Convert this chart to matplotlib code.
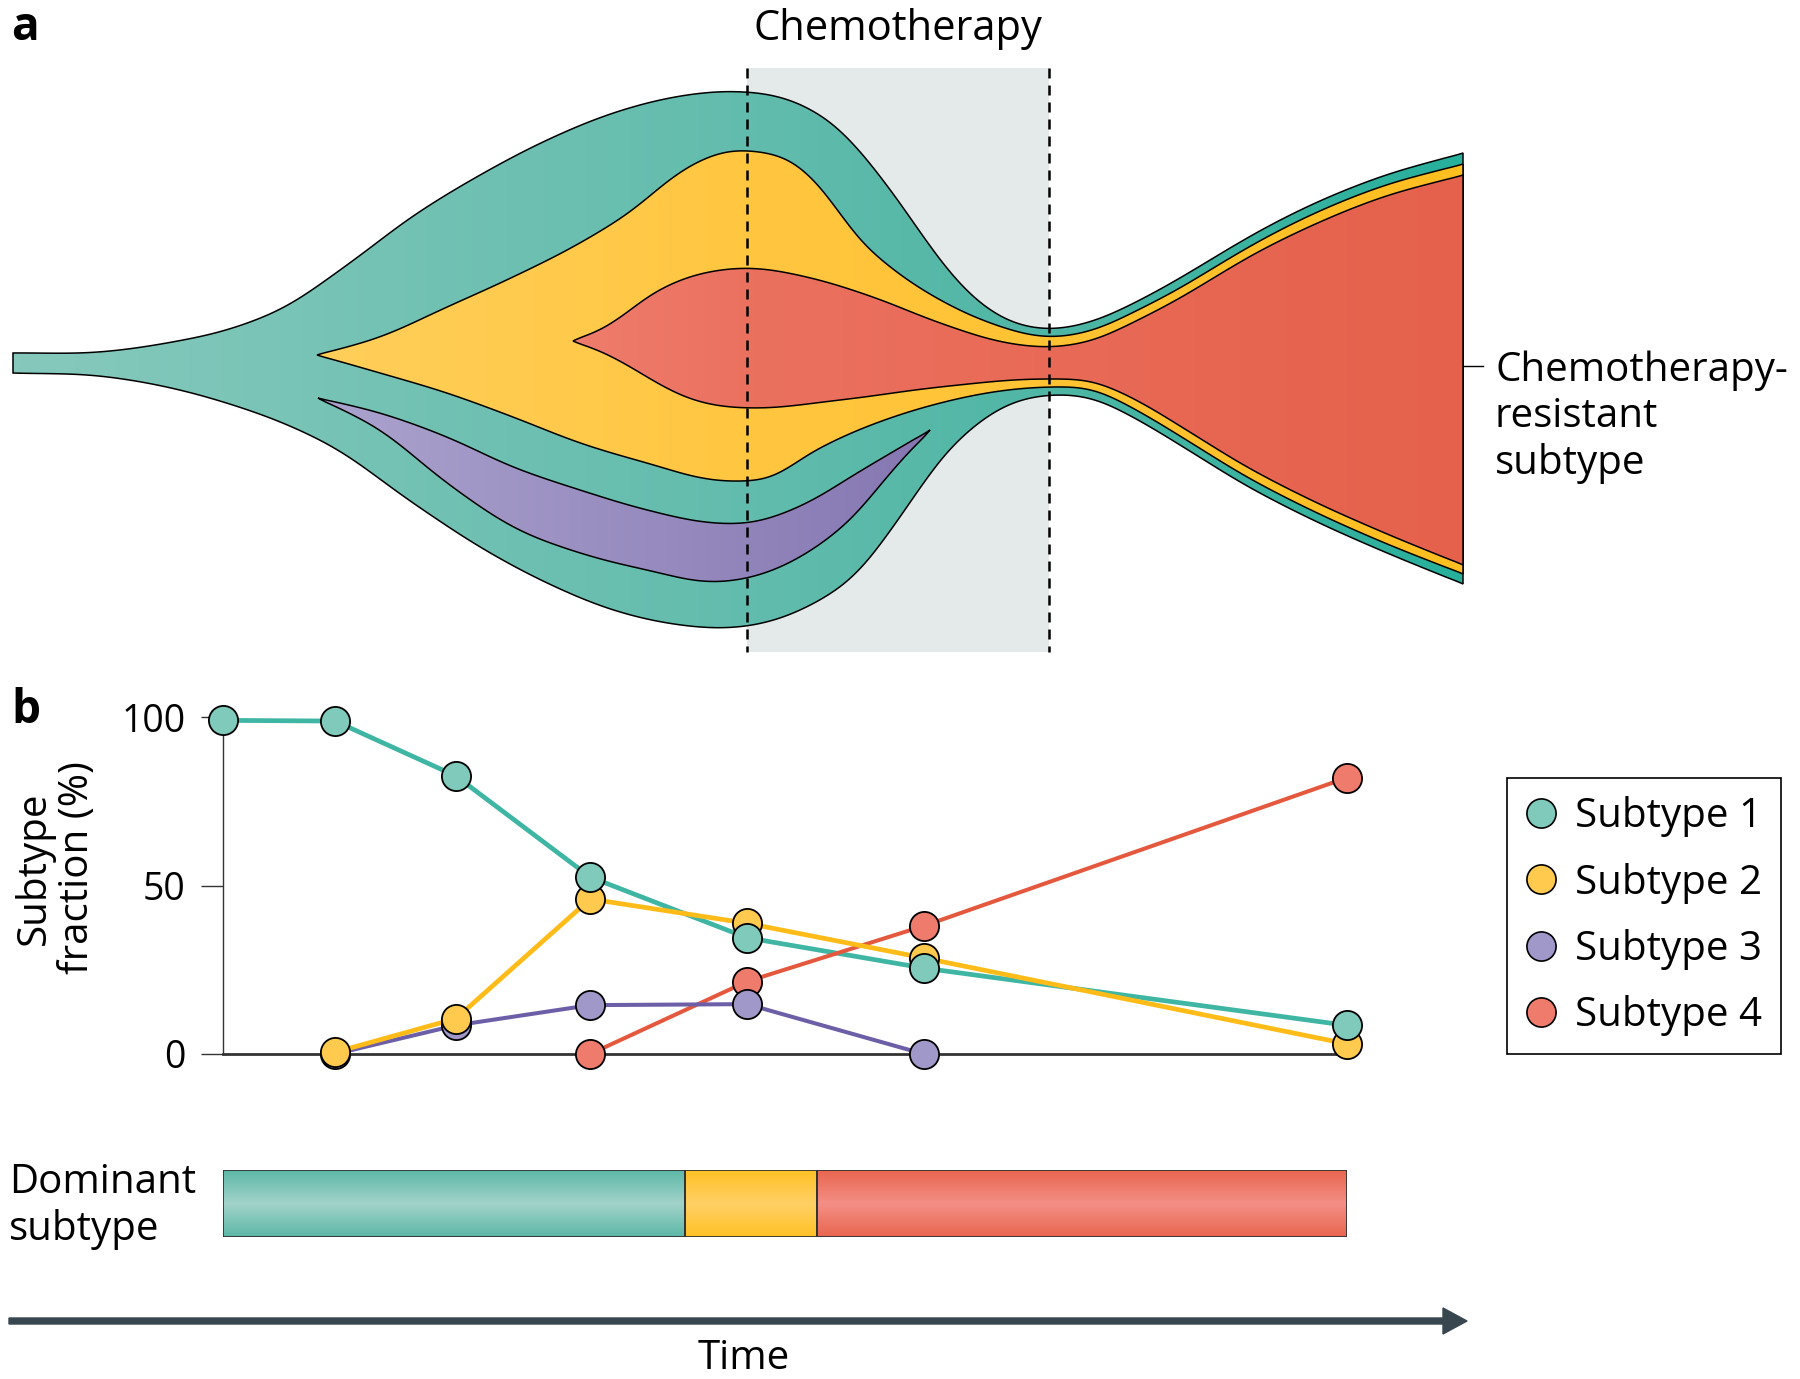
import numpy as np
import matplotlib
matplotlib.use('Agg')
import matplotlib.pyplot as plt
from matplotlib.colors import LinearSegmentedColormap
from matplotlib.patches import Polygon, Rectangle, FancyArrow
from matplotlib.lines import Line2D

plt.rcParams['font.family'] = ['Open Sans', 'DejaVu Sans']

# ---- panel b: subtype fractions over time ----
time_pts = [0, 1.0, 2.08, 3.28, 4.68, 6.26, 10.04]
subtype1 = [99, 98.8, 82.5, 52.5, 34.5, 25.5, 8.5]
subtype2 = [np.nan, 0.5, 10.5, 46, 38.8, 28.5, 3]
subtype3 = [np.nan, 0, 8.5, 14.5, 14.8, 0, np.nan]
subtype4 = [np.nan, np.nan, np.nan, 0, 21.5, 38, 82]
labels = ['Subtype 1', 'Subtype 2', 'Subtype 3', 'Subtype 4']

# dominant subtype bar (time units)
dominant_start = [0, 4.13, 5.31]
dominant_end = [4.13, 5.31, 10.04]
dominant_idx = [0, 1, 3]

line_cols = ['#3fb5a3', '#ffbc19', '#6c5fa8', '#e4583e']
marker_cols = ['#7fcabb', '#ffca4d', '#a198ca', '#ef7b6c']

# ---- panel a: fish plot boundaries (schematic units, y downwards) ----
outer_top_x = [13, 100, 167, 233, 283, 347, 413, 480, 547, 613, 680, 713, 748, 790, 840, 873,
               907, 940, 973, 1007, 1050, 1090, 1140, 1180, 1220, 1247, 1313, 1380, 1463]
outer_top_y = [353, 352, 343, 328, 308, 265, 216, 175, 140, 113, 96, 92, 92, 100, 130, 167,
               213, 260, 297, 320, 329, 322, 300, 278, 254, 238, 204, 177, 153]
outer_bot_x = [13, 100, 167, 233, 283, 333, 413, 480, 547, 613, 680, 720, 748, 807, 857, 907,
               940, 973, 1007, 1050, 1090, 1140, 1180, 1247, 1313, 1380, 1463]
outer_bot_y = [373, 376, 387, 405, 423, 447, 503, 547, 583, 610, 625, 628, 626, 607, 573, 507,
               460, 427, 405, 395, 398, 421, 445, 486, 520, 550, 584]

yellow_top_x = [317, 380, 447, 513, 580, 630, 680, 713, 740, 760, 790, 823, 857, 890, 940, 990,
                1050, 1090, 1140, 1180, 1220, 1247, 1313, 1380, 1463]
yellow_top_y = [355, 337, 307, 277, 243, 212, 172, 155, 150, 152, 160, 190, 237, 267, 300, 323,
                337, 331, 309, 288, 264, 248, 214, 187, 164]
yellow_bot_x = [317, 380, 447, 513, 580, 647, 713, 748, 773, 807, 840, 890, 940, 1007, 1050,
                1090, 1140, 1180, 1247, 1313, 1380, 1463]
yellow_bot_y = [355, 373, 393, 417, 443, 463, 480, 481, 477, 455, 438, 418, 403, 390, 387,
                389, 412, 436, 477, 511, 541, 574]

red_top_x = [573, 613, 647, 680, 713, 748, 807, 873, 940, 1007, 1050, 1090, 1140, 1180, 1220,
             1247, 1313, 1380, 1463]
red_top_y = [341, 323, 297, 280, 271, 268, 277, 297, 323, 343, 347, 341, 319, 298, 274,
             258, 225, 198, 175]
red_bot_x = [573, 613, 647, 680, 713, 748, 840, 940, 1050, 1090, 1140, 1180, 1247, 1313, 1380, 1463]
red_bot_y = [341, 357, 377, 395, 405, 408, 400, 387, 379, 381, 402, 426, 467, 501, 531, 565]

purple_top_x = [318, 380, 447, 513, 580, 647, 713, 748, 807, 857, 930]
purple_top_y = [398, 413, 437, 467, 490, 510, 523, 523, 503, 473, 430]
purple_bot_x = [318, 380, 447, 513, 580, 647, 713, 748, 807, 857, 890, 930]
purple_bot_y = [398, 430, 483, 527, 553, 570, 582, 578, 553, 513, 473, 430]


def smooth(px, py, win=41):
    # cubic hermite through the read-off points, then a light moving average
    # (faded out towards both ends so the tips stay sharp)
    px = np.asarray(px, float)
    py = np.asarray(py, float)
    m = np.gradient(py, px)
    xs = np.linspace(px[0], px[-1], int(px[-1] - px[0]) + 1)
    i = np.clip(np.searchsorted(px, xs) - 1, 0, len(px) - 2)
    h = px[i + 1] - px[i]
    t = (xs - px[i]) / h
    ys = ((2 * t**3 - 3 * t**2 + 1) * py[i] + (t**3 - 2 * t**2 + t) * h * m[i]
          + (-2 * t**3 + 3 * t**2) * py[i + 1] + (t**3 - t**2) * h * m[i + 1])
    if len(ys) > win:
        sm = np.convolve(np.pad(ys, win // 2, mode='edge'), np.ones(win) / win, mode='valid')
        w = np.clip(np.minimum(xs - xs[0], xs[-1] - xs) / 40.0, 0, 1)
        ys = ys + w * (sm - ys)
    return xs, ys


def fish_layer(ax, tx, ty, bx, by, cmap, z):
    tx, ty = smooth(tx, ty)
    bx, by = smooth(bx, by)
    verts = np.column_stack([np.r_[tx, bx[::-1]], np.r_[ty, by[::-1]]])
    poly = Polygon(verts, closed=True, facecolor='none', edgecolor='black', lw=1.1, zorder=z + 0.5)
    ax.add_patch(poly)
    grad = np.linspace(0, 1, 256)[None, :]
    im = ax.imshow(grad, cmap=cmap, aspect='auto', zorder=z,
                   extent=(verts[:, 0].min(), verts[:, 0].max(), verts[:, 1].max(), verts[:, 1].min()))
    im.set_clip_path(poly)


fig = plt.figure(figsize=(18, 13.79), dpi=100)
ax0 = fig.add_axes([0, 0, 1, 1])
ax0.axis('off')

# chemotherapy window
ax0.add_patch(Rectangle((747, 68), 302, 584, facecolor='#e4e9e9', edgecolor='none', zorder=0.5))

teal_cm = LinearSegmentedColormap.from_list('t', [(0, '#86c9bc'), (0.51, '#62bcad'), (0.72, '#4fb6a5'), (1, '#27b09c')])
yel_cm = LinearSegmentedColormap.from_list('y', [(0, '#ffcf5a'), (0.38, '#ffc640'), (1, '#ffbf20')])
red_cm = LinearSegmentedColormap.from_list('r', [(0, '#ef7c6c'), (0.2, '#eb715f'), (1, '#e5614b')])
pur_cm = LinearSegmentedColormap.from_list('p', [(0, '#aba3ce'), (1, '#8677b2')])

fish_layer(ax0, outer_top_x, outer_top_y, outer_bot_x, outer_bot_y, teal_cm, 1)
fish_layer(ax0, yellow_top_x, yellow_top_y, yellow_bot_x, yellow_bot_y, yel_cm, 2)
fish_layer(ax0, red_top_x, red_top_y, red_bot_x, red_bot_y, red_cm, 3)
fish_layer(ax0, purple_top_x, purple_top_y, purple_bot_x, purple_bot_y, pur_cm, 3)

for xv in (747, 1049):
    ax0.plot([xv, xv], [68, 652], color='black', lw=1.8, dashes=(4, 2.8), zorder=6)

ax0.plot([1463, 1483], [366, 366], color='black', lw=1, zorder=6)
ax0.text(898, 40, 'Chemotherapy', fontsize=30, ha='center', va='baseline')
ax0.text(1495, 381, 'Chemotherapy-', fontsize=29, ha='left', va='baseline')
ax0.text(1495, 427, 'resistant', fontsize=29, ha='left', va='baseline')
ax0.text(1495, 474, 'subtype', fontsize=29, ha='left', va='baseline')

ax0.text(11, 40, 'a', fontsize=33, fontweight='bold', ha='left', va='baseline')
ax0.text(11, 723, 'b', fontsize=33, fontweight='bold', ha='left', va='baseline')

ax0.text(9, 1193, 'Dominant', fontsize=29, ha='left', va='baseline')
ax0.text(9, 1240, 'subtype', fontsize=29, ha='left', va='baseline')

ax0.add_patch(FancyArrow(9, 1321, 1458, 0, width=6, head_width=26, head_length=24,
                         length_includes_head=True, color='#37464f', zorder=3))
ax0.text(744, 1369, 'Time', fontsize=29, ha='center', va='baseline')

ax0.set_xlim(0, 1800)
ax0.set_ylim(1379, 0)

# ---- panel b axes ----
W, H = 1800, 1379
axb = fig.add_axes([223 / W, (H - 1054) / H, 1124 / W, 337 / H])
axb.patch.set_alpha(0)
series = [subtype1, subtype2, subtype3, subtype4]
line_order = [0, 3, 2, 1]
lws = [3.4, 3.4, 2.9, 2.9]
for k in line_order:
    axb.plot(time_pts, series[k], color=line_cols[k], lw=lws[k], zorder=2, clip_on=False,
             solid_capstyle='butt')
for z, k in enumerate([3, 2, 1, 0]):
    axb.plot(time_pts, series[k], ls='none', marker='o', ms=21, mfc=marker_cols[k],
             mec='black', mew=1.3, zorder=4 + z, clip_on=False)

axb.set_xlim(0, 10.04)
axb.set_ylim(0, 100)
axb.set_xticks([])
axb.set_yticks([0, 50, 100])
axb.tick_params(axis='y', length=16, width=1, pad=11, labelsize=27, color='#333333')
for s in ('top', 'right'):
    axb.spines[s].set_visible(False)
axb.spines['left'].set_linewidth(1)
axb.spines['left'].set_color('#333333')
axb.spines['bottom'].set_linewidth(2)
axb.spines['bottom'].set_color('#333333')
axb.set_ylabel('Subtype\nfraction (%)', fontsize=29, linespacing=1.1)
axb.yaxis.set_label_coords((98 - 223) / 1124, (1054 - 868) / 337)

handles = [Line2D([], [], ls='none', marker='o', ms=21, mfc=marker_cols[k], mec='black', mew=1.2)
           for k in range(4)]
leg = fig.legend(handles, labels, loc='upper left', bbox_to_anchor=(1507 / W, 1 - 778 / H),
                 fontsize=29, frameon=True, fancybox=False, edgecolor='black', framealpha=1,
                 borderpad=0.45, labelspacing=0.63, handlelength=0.8, handletextpad=0.45,
                 borderaxespad=0)
leg.get_frame().set_linewidth(1.2)

# ---- dominant subtype bar ----
axd = fig.add_axes([223 / W, (H - 1237) / H, 1124 / W, 67 / H])
axd.axis('off')
bar_edge = [['#5cb8a7', '#a3d3ca'], ['#ffc125', '#ffd066'], None, ['#e8664f', '#f48f86']]
for s0, s1, k in zip(dominant_start, dominant_end, dominant_idx):
    edge, mid = bar_edge[k]
    cm = LinearSegmentedColormap.from_list('b%d' % k, [(0, edge), (0.5, mid), (1, edge)])
    axd.imshow(np.linspace(0, 1, 128)[:, None], cmap=cm, aspect='auto', extent=(s0, s1, 0, 1), zorder=1)
    axd.add_patch(Rectangle((s0, 0), s1 - s0, 1, facecolor='none', edgecolor='#333333', lw=1.3, zorder=2))
axd.set_xlim(0, 10.04)
axd.set_ylim(0, 1)

fig.savefig('out.png', dpi=100)
